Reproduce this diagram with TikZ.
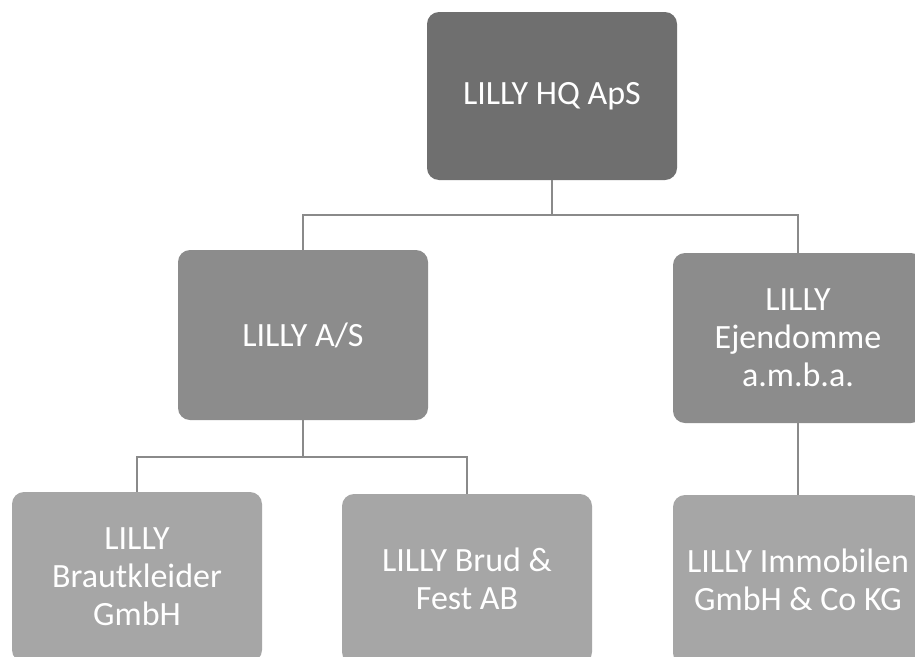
\documentclass[tikz,border=0pt]{standalone}
\usepackage{fontspec}
\setmainfont{Carlito}
\definecolor{topgray}{HTML}{6F6F6F}
\definecolor{midgray}{HTML}{8C8C8C}
\definecolor{lowgray}{HTML}{A6A6A6}
\definecolor{linegray}{HTML}{8A8A8A}
\tikzset{
  orgbox/.style={rounded corners=12pt, minimum width=250pt, align=center, text=white,
    font=\fontsize{34}{38}\selectfont, inner sep=0pt},
  conn/.style={draw=linegray, line width=1.4pt}
}
\begin{document}
\begin{tikzpicture}[x=1pt,y=-1pt]
\clip (0,0) rectangle (915,656);
\fill[white] (0,0) rectangle (915,656);
\node[orgbox, fill=topgray, minimum height=168pt] (hq) at (552,96) {LILLY HQ ApS};
\node[orgbox, fill=midgray, minimum height=170pt] (as) at (303,335) {LILLY A/S};
\node[orgbox, fill=midgray, minimum height=170pt] (ej) at (798,338) {LILLY\\Ejendomme\\a.m.b.a.};
\node[orgbox, fill=lowgray, minimum height=170pt] (bk) at (137,577) {LILLY\\Brautkleider\\GmbH};
\node[orgbox, fill=lowgray, minimum height=170pt] (bf) at (467,579) {LILLY Brud \&\\Fest AB};
\node[orgbox, fill=lowgray, minimum height=170pt] (im) at (798,580) {LILLY Immobilen\\GmbH \& Co KG};
\coordinate (b1) at (0,215);
\coordinate (b2) at (0,457);
\draw[conn] (hq.south) -- (hq.south |- b1);
\draw[conn] (as.north) |- (b1 -| ej.north) -- (ej.north);
\draw[conn] (as.south) -- (as.south |- b2);
\draw[conn] (bk.north) |- (b2 -| bf.north) -- (bf.north);
\draw[conn] (ej.south) -- (im.north);
\end{tikzpicture}
\end{document}
